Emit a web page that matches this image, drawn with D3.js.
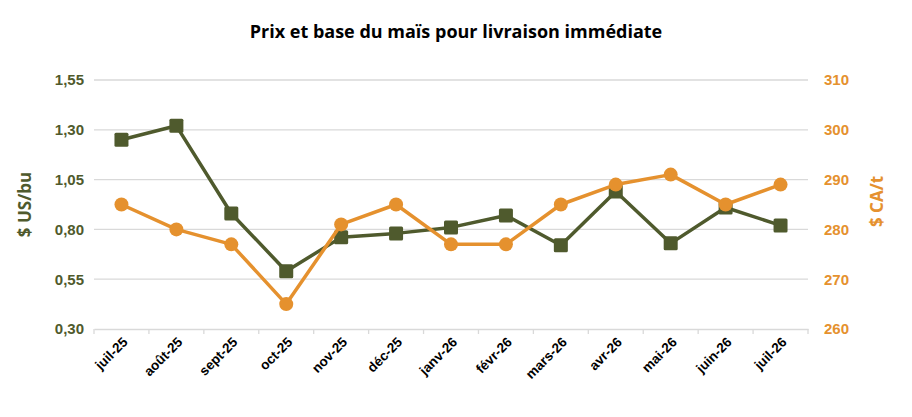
<!DOCTYPE html>
<html>
<head>
<meta charset="utf-8">
<script src="https://cdn.jsdelivr.net/npm/d3@7"></script>
<style>
  body { margin: 0; background: #fff; }
  svg { font-family: "Open Sans", "Noto Sans", sans-serif; }
</style>
</head>
<body>
<svg id="chart" width="912" height="417"></svg>
<script>
const months = ['juil-25', 'août-25', 'sept-25', 'oct-25', 'nov-25', 'déc-25',
  'janv-26', 'févr-26', 'mars-26', 'avr-26', 'mai-26', 'juin-26', 'juil-26'];
const baseUsBu = [1.25, 1.32, 0.88, 0.59, 0.76, 0.78, 0.81, 0.87, 0.72, 0.99, 0.73, 0.91, 0.82];
const prixCaT = [285, 280, 277, 265, 281, 285, 277, 277, 285, 289, 291, 285, 289];
const leftTicks = [0.30, 0.55, 0.80, 1.05, 1.30, 1.55];
const rightTicks = [260, 270, 280, 290, 300, 310];

const green = '#4f5a2d';
const orange = '#e5912e';

const svg = d3.select('#chart');
const margin = { top: 80, right: 104, bottom: 88, left: 94 };
const width = 912 - margin.left - margin.right;
const height = 417 - margin.top - margin.bottom;

const x = d3.scaleBand().domain(months).range([margin.left, margin.left + width]);
const yLeft = d3.scaleLinear().domain([0.30, 1.55]).range([margin.top + height, margin.top]);
const yRight = d3.scaleLinear().domain([260, 310]).range([margin.top + height, margin.top]);

svg.append('text')
  .attr('x', 456).attr('y', 38)
  .attr('text-anchor', 'middle')
  .style('font-size', '18px').style('font-weight', 'bold')
  .text('Prix et base du maïs pour livraison immédiate');

// grid
svg.append('g')
  .selectAll('line')
  .data(leftTicks.slice(1))
  .join('line')
  .attr('x1', margin.left).attr('x2', margin.left + width)
  .attr('y1', d => yLeft(d)).attr('y2', d => yLeft(d))
  .attr('stroke', '#d9d9d9').attr('stroke-width', 1.3);

// x axis
const xAxis = svg.append('g')
  .attr('transform', `translate(0,${margin.top + height})`)
  .call(d3.axisBottom(x).tickSize(0).tickPadding(0));
xAxis.select('.domain').attr('stroke', '#d9d9d9').attr('stroke-width', 1.3);
xAxis.selectAll('.tick text')
  .attr('fill', '#000')
  .style('font-size', '13.5px').style('font-weight', 'bold')
  .attr('text-anchor', 'end')
  .attr('dy', 0)
  .attr('transform', 'translate(7,14) rotate(-45)');
svg.append('g')
  .selectAll('line')
  .data(d3.range(months.length + 1))
  .join('line')
  .attr('x1', i => margin.left + i * x.step()).attr('x2', i => margin.left + i * x.step())
  .attr('y1', margin.top + height).attr('y2', margin.top + height + 5)
  .attr('stroke', '#d9d9d9').attr('stroke-width', 1.3);

// left axis
const leftAxis = svg.append('g')
  .attr('transform', `translate(${margin.left},0)`)
  .call(d3.axisLeft(yLeft).tickValues(leftTicks).tickSize(0).tickPadding(10)
    .tickFormat(d => d3.format('.2f')(d).replace('.', ',')));
leftAxis.select('.domain').remove();
leftAxis.selectAll('.tick text')
  .attr('fill', green).style('font-size', '15px').style('font-weight', 'bold');

// right axis
const rightAxis = svg.append('g')
  .attr('transform', `translate(${margin.left + width},0)`)
  .call(d3.axisRight(yRight).tickValues(rightTicks).tickSize(0).tickPadding(16));
rightAxis.select('.domain').remove();
rightAxis.selectAll('.tick text')
  .attr('fill', orange).style('font-size', '15px').style('font-weight', 'bold');

svg.append('text')
  .attr('transform', `translate(31,${margin.top + height / 2}) rotate(-90)`)
  .attr('text-anchor', 'middle')
  .attr('fill', green)
  .style('font-size', '17px').style('font-weight', 'bold')
  .text('$ US/bu');

svg.append('text')
  .attr('transform', `translate(883,${margin.top + height / 2 - 3}) rotate(-90)`)
  .attr('text-anchor', 'middle')
  .attr('fill', orange)
  .style('font-size', '17px').style('font-weight', 'bold')
  .text('$ CA/t');

const cx = d => x(d) + x.bandwidth() / 2;

// green series
svg.append('path')
  .datum(months)
  .attr('fill', 'none').attr('stroke', green).attr('stroke-width', 3.5)
  .attr('stroke-linejoin', 'round')
  .attr('d', d3.line().x(cx).y((d, i) => yLeft(baseUsBu[i])));
svg.append('g')
  .selectAll('rect')
  .data(months)
  .join('rect')
  .attr('x', d => cx(d) - 7).attr('y', (d, i) => yLeft(baseUsBu[i]) - 7)
  .attr('width', 14).attr('height', 14).attr('rx', 1.5)
  .attr('fill', green);

// orange series
svg.append('path')
  .datum(months)
  .attr('fill', 'none').attr('stroke', orange).attr('stroke-width', 3.5)
  .attr('stroke-linejoin', 'round')
  .attr('d', d3.line().x(cx).y((d, i) => yRight(prixCaT[i])));
svg.append('g')
  .selectAll('circle')
  .data(months)
  .join('circle')
  .attr('cx', cx).attr('cy', (d, i) => yRight(prixCaT[i]))
  .attr('r', 7)
  .attr('fill', orange);
</script>
</body>
</html>
